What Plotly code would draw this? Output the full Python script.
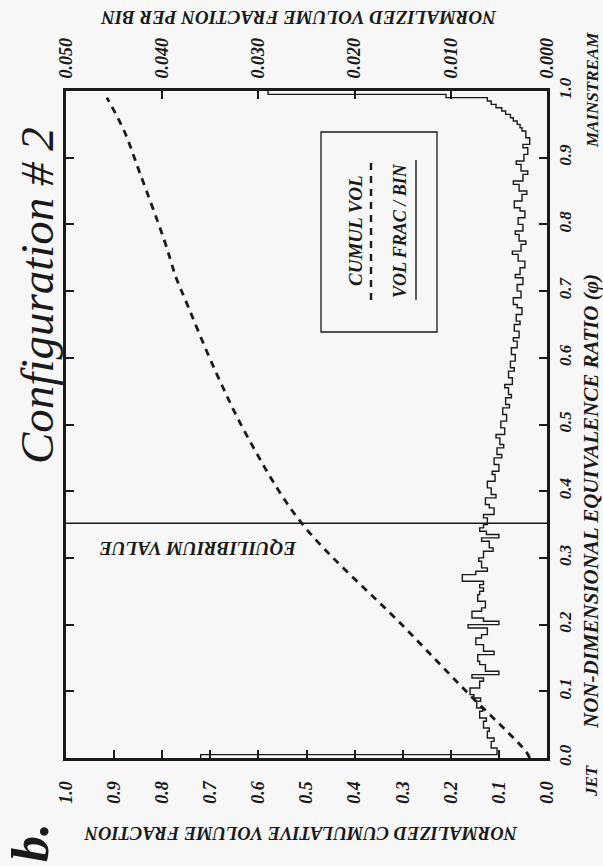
import plotly.graph_objects as go

# ---------------- data ----------------
RATIO_TICKS = [0.0, 0.1, 0.2, 0.3, 0.4, 0.5, 0.6, 0.7, 0.8, 0.9, 1.0]
RATIO_TICK_LABELS = ["0.0", "0.1", "0.2", "0.3", "0.4", "0.5", "0.6", "0.7", "0.8", "0.9", "1.0"]
CUM_TICKS = [0.0, 0.1, 0.2, 0.3, 0.4, 0.5, 0.6, 0.7, 0.8, 0.9, 1.0]
CUM_TICK_LABELS = ["0.0", "0.1", "0.2", "0.3", "0.4", "0.5", "0.6", "0.7", "0.8", "0.9", "1.0"]
BIN_TICKS = [0.0, 0.01, 0.02, 0.03, 0.04, 0.05]
BIN_TICK_LABELS = ["0.000", "0.010", "0.020", "0.030", "0.040", "0.050"]

BIN_WIDTH = 0.005
VOL_FRAC_PER_BIN = [
    # 0.00 - 0.10
    0.0360, 0.0052, 0.0052, 0.0058, 0.0058, 0.0055, 0.0062, 0.0062, 0.0060, 0.0066,
    0.0066, 0.0063, 0.0070, 0.0070, 0.0067, 0.0073, 0.0073, 0.0069, 0.0076, 0.0080,
    # 0.10 - 0.20
    0.0080, 0.0070, 0.0070, 0.0066, 0.0078, 0.0050, 0.0064, 0.0064, 0.0070, 0.0072,
    0.0072, 0.0055, 0.0066, 0.0066, 0.0074, 0.0074, 0.0068, 0.0062, 0.0062, 0.0082,
    # 0.20 - 0.30
    0.0050, 0.0066, 0.0078, 0.0078, 0.0068, 0.0064, 0.0064, 0.0072, 0.0072, 0.0070,
    0.0066, 0.0070, 0.0066, 0.0088, 0.0088, 0.0074, 0.0062, 0.0068, 0.0068, 0.0071,
    # 0.30 - 0.40
    0.0066, 0.0066, 0.0056, 0.0060, 0.0060, 0.0068, 0.0050, 0.0063, 0.0070, 0.0066,
    0.0062, 0.0062, 0.0066, 0.0055, 0.0055, 0.0060, 0.0064, 0.0064, 0.0053, 0.0058,
    # 0.40 - 0.50
    0.0058, 0.0062, 0.0062, 0.0054, 0.0054, 0.0057, 0.0050, 0.0050, 0.0055, 0.0055,
    0.0047, 0.0052, 0.0052, 0.0045, 0.0049, 0.0049, 0.0053, 0.0044, 0.0044, 0.0048,
    # 0.50 - 0.60
    0.0048, 0.0042, 0.0042, 0.0046, 0.0046, 0.0039, 0.0043, 0.0043, 0.0037, 0.0040,
    0.0040, 0.0044, 0.0036, 0.0036, 0.0040, 0.0040, 0.0034, 0.0038, 0.0038, 0.0033,
    # 0.60 - 0.70
    0.0033, 0.0037, 0.0037, 0.0031, 0.0031, 0.0035, 0.0029, 0.0029, 0.0034, 0.0034,
    0.0028, 0.0032, 0.0032, 0.0026, 0.0026, 0.0031, 0.0035, 0.0035, 0.0027, 0.0027,
    # 0.70 - 0.80
    0.0031, 0.0031, 0.0025, 0.0025, 0.0033, 0.0028, 0.0028, 0.0023, 0.0023, 0.0030,
    0.0030, 0.0036, 0.0027, 0.0027, 0.0022, 0.0029, 0.0029, 0.0033, 0.0025, 0.0025,
    # 0.80 - 0.90
    0.0030, 0.0030, 0.0023, 0.0023, 0.0028, 0.0034, 0.0034, 0.0026, 0.0026, 0.0021,
    0.0029, 0.0029, 0.0035, 0.0025, 0.0025, 0.0020, 0.0027, 0.0027, 0.0032, 0.0024,
    # 0.90 - 1.00
    0.0024, 0.0020, 0.0020, 0.0025, 0.0018, 0.0018, 0.0022, 0.0022, 0.0026, 0.0028,
    0.0031, 0.0035, 0.0038, 0.0043, 0.0047, 0.0053, 0.0058, 0.0062, 0.0105, 0.0290,
]

CUMUL_RATIO = [0.0, 0.01, 0.10, 0.20, 0.352, 0.478, 0.578, 0.687, 0.72, 0.777, 0.88, 0.94, 0.99]
CUMUL_VOL = [0.036, 0.044, 0.168, 0.302, 0.51, 0.62, 0.688, 0.752, 0.771, 0.796, 0.848, 0.879, 0.915]

EQUILIBRIUM_RATIO = 0.352

# ---------------- layout geometry ----------------
W, H = 603, 866
ML, MR, MT, MB = 66, 56, 91, 108
PW, PH = W - ML - MR, H - MT - MB


def px(xp):
    return (xp - ML) / PW


def py(yp):
    return (H - MB - yp) / PH


SERIF = "Liberation Serif"
BG = "#f7f7f7"
INK = "#1a1a1a"

# ---------------- traces ----------------
step_x, step_y = [], []
for i, v in enumerate(VOL_FRAC_PER_BIN):
    lo = i * BIN_WIDTH
    step_x += [v, v]
    step_y += [lo, lo + BIN_WIDTH]

fig = go.Figure()

fig.add_trace(go.Scatter(
    x=step_x, y=step_y, xaxis="x2", yaxis="y", mode="lines",
    line=dict(color=INK, width=1.4), showlegend=False, hoverinfo="skip"))

fig.add_trace(go.Scatter(
    x=CUMUL_VOL, y=CUMUL_RATIO, xaxis="x", yaxis="y", mode="lines",
    line=dict(color=INK, width=2.8, dash="7px,6px", shape="spline"),
    showlegend=False, hoverinfo="skip"))

fig.add_trace(go.Scatter(
    x=[CUM_TICKS[0], CUM_TICKS[-1]], y=[EQUILIBRIUM_RATIO, EQUILIBRIUM_RATIO],
    xaxis="x", yaxis="y", mode="lines",
    line=dict(color=INK, width=1.4), showlegend=False, hoverinfo="skip"))

tickfont = dict(family=SERIF, size=18, color=INK, weight="bold", style="italic")
rtickfont = dict(family=SERIF, size=17, color=INK, weight="bold", style="italic")

fig.update_layout(
    width=W, height=H, margin=dict(l=ML, r=MR, t=MT, b=MB),
    paper_bgcolor=BG, plot_bgcolor=BG, showlegend=False,
    xaxis=dict(
        range=[1.0, 0.0], tickvals=CUM_TICKS, ticktext=CUM_TICK_LABELS,
        tickangle=-90, ticks="inside", ticklen=8, tickwidth=1.5, tickcolor=INK,
        showline=True, linewidth=3, linecolor=INK, mirror=False,
        showgrid=False, zeroline=False, tickfont=tickfont, ticklabelstandoff=13,
    ),
    xaxis2=dict(
        range=[0.05, 0.0], overlaying="x", side="top", anchor="y",
        tickvals=BIN_TICKS, ticktext=BIN_TICK_LABELS,
        tickangle=-90, ticks="inside", ticklen=8, tickwidth=1.5, tickcolor=INK,
        showline=True, linewidth=3, linecolor=INK,
        showgrid=False, zeroline=False, tickfont=tickfont, ticklabelstandoff=6,
    ),
    yaxis=dict(
        range=[0.0, 1.0], side="right", tickvals=RATIO_TICKS, ticktext=RATIO_TICK_LABELS,
        tickangle=-90, ticks="inside", ticklen=8, tickwidth=1.5, tickcolor=INK,
        showline=True, linewidth=3, linecolor=INK, mirror="ticks",
        showgrid=False, zeroline=False, tickfont=rtickfont, ticklabelstandoff=1,
    ),
)


def note(text, xp, yp, angle, size, bold=True, italic=True):
    f = dict(family=SERIF, color=INK, size=size,
             weight="bold" if bold else "normal",
             style="italic" if italic else "normal")
    fig.add_annotation(text=text, x=px(xp), y=py(yp), xref="paper", yref="paper",
                       xanchor="center", yanchor="middle", textangle=angle,
                       showarrow=False, font=f)


note("NORMALIZED VOLUME FRACTION PER BIN", 299, 18, 180, 19)
note("NORMALIZED CUMULATIVE VOLUME FRACTION", 301, 833, 180, 18.5)
note("NON-DIMENSIONAL EQUIVALENCE RATIO (φ)", 591, 502, -90, 21)
note("JET", 591, 781, -90, 17)
note("MAINSTREAM", 592, 90, -90, 17)
note("Configuration # 2", 37, 296, -90, 47, bold=False)
note("b.", 30, 843, -90, 52)
note("EQUILIBRIUM VALUE", 198, 549, 180, 19)
note("CUMUL VOL", 355, 231, -90, 19)
note("VOL FRAC / BIN", 400, 231, -90, 18)

# legend box and samples
fig.add_shape(type="rect", xref="paper", yref="paper",
              x0=px(321), x1=px(437), y0=py(332), y1=py(132),
              line=dict(color=INK, width=1.3))
fig.add_shape(type="line", xref="paper", yref="paper",
              x0=px(371), x1=px(371), y0=py(300), y1=py(158),
              line=dict(color=INK, width=2.4, dash="7px,6px"))
fig.add_shape(type="line", xref="paper", yref="paper",
              x0=px(416), x1=px(416), y0=py(300), y1=py(160),
              line=dict(color=INK, width=1.4))

fig.write_html("out.html")
